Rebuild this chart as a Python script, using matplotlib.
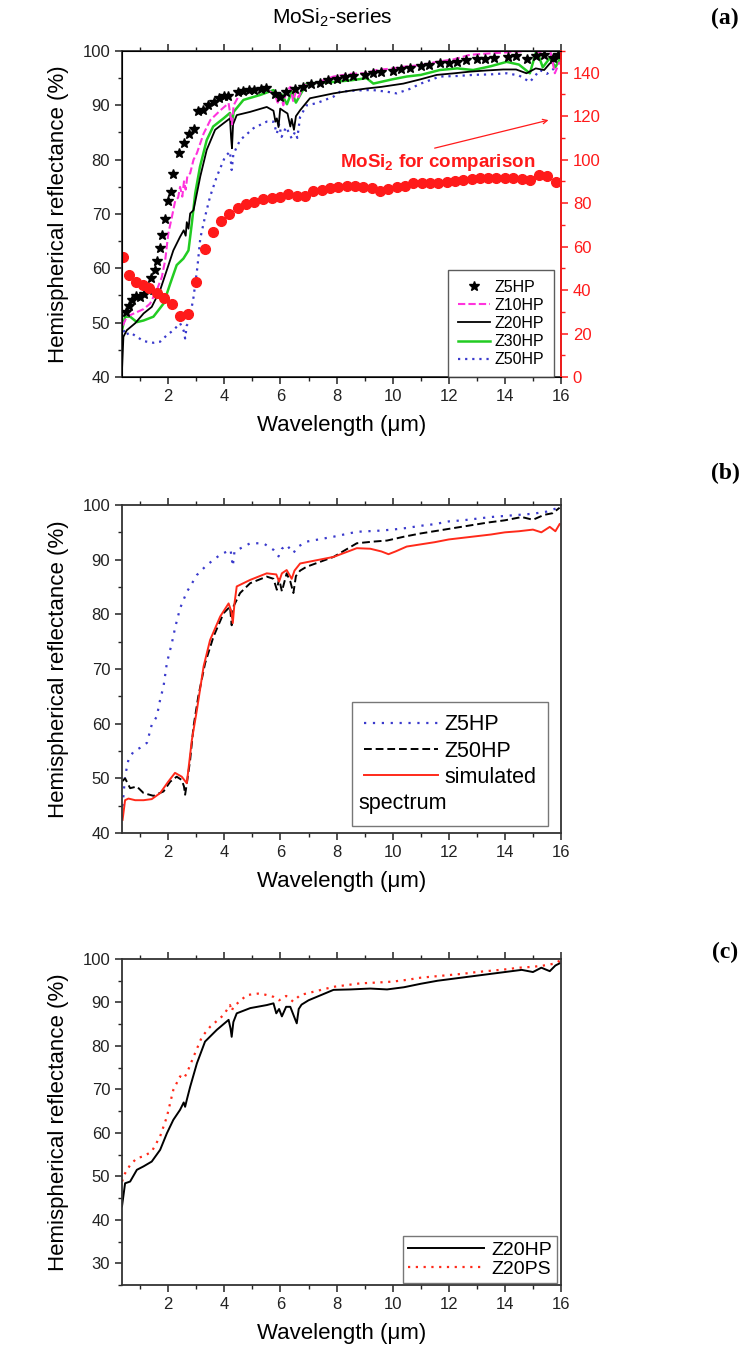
import numpy as np
import matplotlib
matplotlib.use('Agg')
import matplotlib.pyplot as plt
from matplotlib.lines import Line2D

plt.rcParams['font.family'] = ['Liberation Sans', 'DejaVu Sans']
plt.rcParams['mathtext.fontset'] = 'custom'
plt.rcParams['mathtext.rm'] = 'Liberation Sans'
plt.rcParams['mathtext.bf'] = 'Liberation Sans:bold'

# ---- panel (a): MoSi2 series ----
z5_x = [0.50, 0.61, 0.72, 0.86, 1.00, 1.12, 1.26, 1.40, 1.51, 1.61, 1.71, 1.79, 1.90, 2.00, 2.09, 2.18, 2.37, 2.56, 2.74, 2.92,
        3.07, 3.25, 3.43, 3.63, 3.82, 4.00, 4.13, 4.48, 4.68, 4.88, 5.04, 5.3, 5.5, 5.8, 6.0, 6.2, 6.5, 6.8, 7.1, 7.4, 7.7, 8.0,
        8.3, 8.6, 9.0, 9.3, 9.6, 10.0, 10.3, 10.6, 11.0, 11.3, 11.7, 12.0, 12.3, 12.6, 13.0, 13.3, 13.6, 14.1, 14.4, 14.8,
        15.1, 15.4, 15.7, 15.9]
z5_y = [51.9, 53.1, 54.1, 54.9, 54.8, 55.2, 56.1, 58.3, 59.7, 61.3, 63.7, 66.1, 69.1, 72.4, 74.1, 77.3, 81.2, 83.0, 84.7, 85.6,
        89.0, 89.1, 90.1, 90.7, 91.4, 91.8, 91.7, 92.5, 92.6, 92.8, 92.9, 93.0, 93.1, 92.0, 91.5, 92.5, 93.0, 93.4, 94.0, 94.2,
        94.6, 94.9, 95.2, 95.4, 95.6, 95.9, 96.2, 96.4, 96.7, 96.9, 97.3, 97.5, 97.7, 97.7, 98.0, 98.3, 98.5, 98.6, 98.8, 98.9,
        99.0, 98.6, 99.1, 99.2, 98.8, 99.3]

z10_x = [0.38, 0.52, 0.82, 1.12, 1.35, 1.59, 1.77, 1.89, 2.00, 2.13, 2.25, 2.35, 2.42, 2.50, 2.56, 2.62, 2.68, 2.78, 2.90, 3.02,
         3.26, 3.50, 3.86, 4.15, 4.22, 4.27, 4.33, 4.56, 5.04, 5.51, 5.80, 5.90, 6.00, 6.10, 6.20, 6.35, 6.45, 6.55, 6.65, 6.82,
         7.20, 7.89, 8.50, 9.00, 9.43, 10.0, 10.38, 11.0, 11.57, 12.2, 12.75, 13.3, 13.94, 14.54, 15.0, 15.3, 15.6, 15.78, 15.95]
z10_y = [49.5, 51.1, 51.8, 52.5, 53.5, 56.0, 58.4, 61.5, 66.4, 69.5, 72.5, 73.0, 75.0, 73.2, 76.0, 74.5, 77.0, 77.5, 80.0, 81.2,
         84.8, 87.3, 89.1, 90.4, 88.0, 86.5, 90.0, 92.2, 92.5, 92.9, 92.0, 90.5, 91.9, 90.0, 92.5, 93.4, 90.8, 92.5, 91.5, 93.7,
         94.0, 95.3, 95.8, 95.9, 96.5, 96.8, 97.1, 97.4, 98.0, 98.5, 99.3, 99.5, 99.7, 99.9, 100.3, 99.5, 100.5, 95.9, 98.0]

z20_x = [0.35, 0.40, 0.52, 0.82, 1.12, 1.41, 1.71, 1.95, 2.18, 2.42, 2.55, 2.62, 2.66, 2.72, 2.78, 2.90, 3.14, 3.37, 3.67, 3.97,
         4.20, 4.24, 4.27, 4.31, 4.44, 4.92, 5.51, 5.75, 5.82, 5.87, 5.93, 5.99, 6.10, 6.25, 6.35, 6.40, 6.48, 6.55, 6.70, 7.05,
         7.89, 8.50, 9.07, 9.60, 10.38, 11.0, 11.57, 12.2, 12.75, 13.3, 13.94, 14.40, 14.77, 15.10, 15.40, 15.60, 15.80, 15.96]
z20_y = [41.3, 47.4, 48.6, 49.9, 51.7, 52.9, 56.0, 59.7, 63.3, 65.8, 67.0, 66.0, 68.5, 67.3, 70.1, 70.7, 76.9, 81.8, 85.5, 86.7,
         87.6, 84.0, 82.1, 86.5, 88.2, 88.8, 89.7, 89.0, 87.0, 87.6, 86.0, 89.4, 89.0, 88.5, 86.1, 87.5, 85.5, 88.0, 89.1, 91.3,
         92.2, 92.7, 93.1, 93.4, 94.0, 94.8, 95.6, 95.9, 96.2, 96.4, 96.6, 96.6, 95.9, 96.8, 96.5, 97.7, 98.2, 99.0]

z30_x = [0.35, 0.46, 0.64, 0.88, 1.12, 1.47, 1.83, 2.07, 2.30, 2.54, 2.72, 2.84, 2.96, 3.13, 3.37, 3.60, 3.97, 4.20, 4.27, 4.33,
         4.68, 5.27, 5.75, 5.90, 6.05, 6.23, 6.40, 6.55, 6.93, 7.89, 8.5, 9.07, 9.31, 10.0, 10.5, 11.0, 11.68, 12.3, 12.87, 13.5,
         14.06, 14.50, 14.89, 15.13, 15.35, 15.60, 15.80, 15.95]
z30_y = [48.6, 51.1, 51.1, 50.1, 50.4, 51.1, 53.5, 57.2, 60.6, 61.8, 63.3, 68.3, 73.8, 78.7, 83.6, 86.1, 87.6, 88.6, 86.5, 88.8,
         91.0, 91.9, 92.8, 91.0, 92.0, 90.2, 92.5, 90.5, 94.0, 94.3, 94.6, 95.0, 94.0, 94.8, 95.3, 95.6, 96.5, 96.8, 96.5, 97.2,
         98.0, 97.5, 95.9, 100.2, 97.0, 98.7, 97.0, 98.5]

z50_x = [0.35, 0.46, 0.64, 0.88, 1.12, 1.47, 1.71, 1.95, 2.18, 2.42, 2.55, 2.60, 2.66, 2.74, 2.90, 3.04, 3.14, 3.31, 3.49, 3.73,
         4.02, 4.20, 4.26, 4.32, 4.56, 5.04, 5.51, 5.75, 5.87, 5.95, 6.04, 6.20, 6.40, 6.52, 6.60, 6.70, 6.93, 7.29, 7.89, 8.12,
         8.60, 9.07, 9.31, 9.80, 10.14, 10.6, 11.0, 11.68, 12.3, 12.87, 13.5, 14.06, 14.50, 14.89, 15.25, 15.50, 15.84]
z50_y = [49.9, 47.7, 48.2, 47.4, 46.6, 46.3, 46.5, 47.7, 48.6, 49.9, 48.5, 47.1, 49.5, 50.1, 54.7, 60.3, 65.5, 69.5, 73.2, 76.9,
         80.5, 81.5, 78.1, 81.0, 83.6, 85.8, 87.0, 87.0, 84.8, 86.5, 84.2, 86.0, 83.9, 85.1, 84.0, 87.9, 90.0, 90.4, 91.6, 92.5,
         92.7, 92.8, 92.8, 92.5, 92.2, 93.0, 94.0, 95.3, 95.4, 95.6, 95.7, 95.9, 95.5, 94.3, 96.5, 95.8, 97.1]

# MoSi2 reference (right axis)
mosi_x = [0.40, 0.61, 0.84, 1.09, 1.33, 1.60, 1.86, 2.13, 2.40, 2.71, 3.00, 3.31, 3.60, 3.89, 4.18, 4.48, 4.77, 5.07, 5.38, 5.68,
          5.99, 6.28, 6.58, 6.88, 7.17, 7.47, 7.77, 8.06, 8.36, 8.66, 8.95, 9.25, 9.55, 9.84, 10.14, 10.44, 10.73, 11.03, 11.33,
          11.62, 11.92, 12.22, 12.52, 12.81, 13.11, 13.41, 13.70, 14.00, 14.30, 14.60, 14.89, 15.21, 15.51, 15.81]
mosi_y = [55.4, 46.8, 43.6, 42.3, 41.1, 38.5, 36.5, 33.4, 27.9, 29.0, 43.6, 58.9, 66.9, 71.8, 75.2, 77.6, 79.6, 80.7, 81.9, 82.4,
          82.6, 84.1, 83.1, 83.4, 85.7, 86.1, 87.0, 87.3, 88.0, 88.0, 87.6, 87.1, 85.7, 86.4, 87.3, 88.0, 89.1, 89.4, 89.4, 89.4,
          89.6, 90.3, 90.7, 91.0, 91.4, 91.4, 91.4, 91.4, 91.4, 91.0, 90.7, 92.8, 92.5, 89.9]

# ---- panel (b) ----
b5_x = [0.37, 0.46, 0.58, 0.76, 1.0, 1.24, 1.41, 1.59, 1.71, 1.83, 1.95, 2.13, 2.25, 2.42, 2.66, 2.78, 3.02, 3.37, 3.85, 4.22,
        4.30, 4.36, 4.92, 5.39, 5.75, 5.93, 6.05, 6.22, 6.46, 6.60, 6.93, 7.89, 8.72, 9.5, 10.0, 10.5, 11.0, 11.5, 12.0, 12.5,
        13.0, 13.5, 14.0, 14.5, 15.0, 15.5, 15.9]
b5_y = [44.9, 50.4, 53.4, 54.9, 55.6, 56.5, 59.8, 61.3, 64.4, 66.8, 71.1, 74.8, 77.7, 81.1, 84.1, 85.1, 87.2, 89.0, 90.9, 91.8,
        88.8, 91.5, 93.0, 93.0, 91.8, 90.6, 92.0, 92.7, 91.2, 92.3, 93.3, 94.2, 95.1, 95.3, 95.5, 95.8, 96.2, 96.5, 97.0, 97.2,
        97.5, 97.8, 98.0, 98.2, 98.4, 98.8, 99.5]

b50_x = [0.37, 0.46, 0.64, 0.88, 1.12, 1.47, 1.83, 2.07, 2.30, 2.48, 2.56, 2.60, 2.66, 2.78, 2.90, 3.07, 3.31, 3.61, 3.97, 4.20,
         4.26, 4.32, 4.56, 4.92, 5.51, 5.75, 5.87, 5.95, 6.05, 6.22, 6.35, 6.46, 6.55, 6.70, 6.93, 7.89, 8.72, 9.3, 9.8, 10.4,
         11.0, 11.6, 12.2, 12.8, 13.4, 14.0, 14.6, 15.0, 15.4, 15.7, 15.95]
b50_y = [49.5, 50.0, 48.2, 48.5, 47.3, 46.8, 47.6, 49.4, 50.3, 49.7, 48.5, 47.0, 49.0, 53.4, 59.5, 65.0, 71.0, 75.9, 80.2, 81.4,
         78.0, 81.4, 83.9, 85.7, 86.9, 86.5, 84.5, 86.5, 84.2, 87.5, 86.0, 83.9, 87.0, 88.0, 88.7, 90.5, 93.0, 93.3, 93.5, 94.2,
         94.8, 95.3, 95.8, 96.3, 96.8, 97.2, 97.8, 97.3, 98.2, 98.5, 99.5]

sim_x = [0.37, 0.46, 0.58, 0.82, 1.12, 1.41, 1.71, 2.00, 2.24, 2.48, 2.66, 2.84, 3.02, 3.26, 3.49, 3.85, 4.15, 4.25, 4.30, 4.36,
         4.44, 4.92, 5.51, 5.85, 5.95, 6.05, 6.22, 6.40, 6.50, 6.70, 7.29, 7.89, 8.72, 9.2, 9.6, 9.85, 10.1, 10.5, 11.0, 11.5,
         12.0, 12.5, 13.0, 13.5, 14.0, 14.5, 15.0, 15.3, 15.6, 15.8, 15.95]
sim_y = [42.4, 46.0, 46.3, 46.0, 46.0, 46.2, 47.3, 49.4, 51.0, 50.3, 49.1, 57.0, 62.5, 70.5, 75.3, 79.6, 82.0, 80.5, 78.4, 82.0,
         85.1, 86.3, 87.5, 87.3, 86.0, 87.5, 88.1, 86.5, 88.0, 89.3, 89.9, 90.5, 92.1, 92.0, 91.5, 91.0, 91.5, 92.4, 92.8, 93.2,
         93.7, 94.0, 94.3, 94.6, 95.0, 95.2, 95.5, 95.0, 96.0, 95.2, 96.5]

# ---- panel (c) ----
c20_x = [0.35, 0.46, 0.64, 0.88, 1.12, 1.41, 1.71, 1.95, 2.18, 2.42, 2.55, 2.60, 2.66, 2.78, 3.02, 3.31, 3.73, 4.15, 4.22, 4.26,
         4.32, 4.44, 4.92, 5.51, 5.75, 5.85, 5.95, 6.05, 6.20, 6.35, 6.50, 6.58, 6.65, 6.75, 7.0, 7.89, 8.5, 9.2, 9.8, 10.4,
         11.0, 11.6, 12.2, 12.8, 13.4, 14.0, 14.6, 15.0, 15.3, 15.6, 15.8, 15.95]
c20_y = [43.1, 48.4, 48.8, 51.5, 52.3, 53.4, 56.1, 59.9, 63.0, 65.3, 67.0, 66.0, 67.6, 70.6, 76.0, 81.0, 83.7, 86.0, 84.0, 82.1,
         85.5, 87.5, 88.7, 89.4, 89.8, 87.5, 88.5, 86.8, 89.0, 89.0, 86.5, 85.2, 88.5, 89.5, 90.5, 92.9, 93.0, 93.2, 93.0, 93.5,
         94.3, 95.0, 95.5, 96.0, 96.5, 97.0, 97.5, 97.0, 98.0, 97.2, 98.5, 99.0]

cps_x = [0.35, 0.46, 0.64, 0.88, 1.12, 1.41, 1.71, 1.95, 2.18, 2.42, 2.55, 2.66, 2.90, 3.20, 3.49, 3.97, 4.20, 4.26, 4.32, 4.80,
         5.27, 5.75, 5.95, 6.20, 6.45, 6.70, 7.2, 7.89, 8.84, 9.5, 10.0, 10.5, 11.0, 11.5, 12.0, 12.5, 13.0, 13.5, 14.0, 14.5,
         15.0, 15.5, 15.8, 15.95]
cps_y = [48.8, 50.7, 52.6, 54.2, 54.6, 55.7, 59.2, 63.7, 69.9, 73.0, 72.5, 73.7, 77.5, 82.1, 84.4, 87.1, 89.4, 88.0, 89.0, 91.7,
         92.1, 91.3, 90.5, 91.5, 90.2, 91.7, 92.5, 93.6, 94.4, 94.6, 94.8, 95.2, 95.7, 96.0, 96.3, 96.6, 97.0, 97.3, 97.6, 98.0,
         98.2, 98.6, 99.0, 99.6]

RED = '#ff1a1a'
W, H = 748, 1349
fig = plt.figure(figsize=(W / 100, H / 100), dpi=100)


def frame(ax, ylo, yhi, right_ticks=False):
    ax.set_xlim(0.35, 16)
    ax.set_ylim(ylo, yhi)
    ax.set_xticks(np.arange(2, 17, 2))
    ax.set_xticks(np.arange(1, 16, 1), minor=True)
    ax.set_yticks(np.arange(int(np.ceil(ylo / 10) * 10), yhi + 1, 10))
    ax.set_yticks(np.arange(ylo, yhi + 1, 5), minor=True)
    ax.tick_params(which='both', direction='out', top=True, right=right_ticks, labelsize=12, colors='#222222')
    ax.tick_params(which='major', length=5, width=1.1)
    ax.tick_params(which='minor', length=3, width=1.0)
    for s in ax.spines.values():
        s.set_linewidth(1.3)
        s.set_color('#333333')
    ax.set_xlabel('Wavelength (μm)', fontsize=16, labelpad=8)
    ax.set_ylabel('Hemispherical reflectance (%)', fontsize=16, labelpad=10)


def box(x0, y0, x1, y1):
    return [x0 / W, 1 - y1 / H, (x1 - x0) / W, (y1 - y0) / H]


# (a)
axa = fig.add_axes(box(122, 51, 561, 377))
frame(axa, 40, 100)
axa.plot(z50_x, z50_y, color='#3a3acc', ls=(0, (1, 2.2)), lw=1.6, label='Z50HP', zorder=2)
axa.plot(z30_x, z30_y, color='#22cc22', lw=1.8, label='Z30HP', zorder=3)
axa.plot(z20_x, z20_y, color='black', lw=1.3, label='Z20HP', zorder=4)
axa.plot(z10_x, z10_y, color='#ff33dd', ls=(0, (3.5, 1.5)), lw=1.5, label='Z10HP', zorder=5)
axa.plot(z5_x, z5_y, ls='none', marker='*', ms=7, color='black', label='Z5HP', zorder=6)

axr = axa.twinx()
axr.set_ylim(0, 150)
axr.set_yticks(np.arange(0, 141, 20))
axr.set_yticks(np.arange(0, 151, 10), minor=True)
axr.tick_params(which='both', direction='out', colors=RED, labelsize=12)
axr.tick_params(which='major', length=5, width=1.1)
axr.tick_params(which='minor', length=3, width=1.0)
axr.spines['right'].set_color(RED)
axr.spines['right'].set_linewidth(1.3)
axr.plot(mosi_x, mosi_y, ls='none', marker='o', ms=7, color=RED, zorder=1)
axr.text(11.6, 98.5, r'MoSi$_\mathbf{2}$ for comparison', color=RED, fontsize=13.5, fontweight='bold',
         ha='center', va='center')
axr.annotate('', xy=(15.65, 118.5), xytext=(11.4, 105),
             arrowprops=dict(arrowstyle='->', color=RED, lw=0.9, mutation_scale=8))

h, l = axa.get_legend_handles_labels()
order = ['Z5HP', 'Z10HP', 'Z20HP', 'Z30HP', 'Z50HP']
hh = [h[l.index(o)] for o in order]
lega = axr.legend(hh, order, loc='lower right', bbox_to_anchor=(0.984, 0.0), fontsize=11.5, frameon=True,
                  fancybox=False, edgecolor='#333333', borderaxespad=0, handlelength=2.0, labelspacing=0.2,
                  borderpad=0.6, handletextpad=0.3)
lega.get_frame().set_linewidth(1.0)

# (b)
axb = fig.add_axes(box(122, 505, 561, 833))
frame(axb, 40, 100)
axb.plot(b5_x, b5_y, color='#3a3acc', ls=(0, (1, 3)), lw=1.6, label='Z5HP')
axb.plot(b50_x, b50_y, color='black', ls=(0, (4, 2)), lw=1.4, label='Z50HP')
axb.plot(sim_x, sim_y, color='#ff2a1a', lw=1.4, label='simulated')
hb, lb = axb.get_legend_handles_labels()
hb.append(Line2D([], [], color='none'))
lb.append(' ')
legb = axb.legend(hb, lb, loc='lower right', bbox_to_anchor=(0.970, 0.021), fontsize=15.5, frameon=True,
                  fancybox=False, edgecolor='#555555', borderaxespad=0, handlelength=3.4, labelspacing=0.25,
                  borderpad=0.55, handletextpad=0.3)
legb.get_frame().set_linewidth(1.0)

# (c)
axc = fig.add_axes(box(122, 959, 561, 1285))
frame(axc, 25, 100)
axc.set_yticks(np.arange(30, 101, 10))
axc.plot(c20_x, c20_y, color='black', lw=1.4, label='Z20HP')
axc.plot(cps_x, cps_y, color='#ff2a1a', ls=(0, (1, 2.5)), lw=1.6, label='Z20PS')
legc = axc.legend(loc='lower right', bbox_to_anchor=(0.991, 0.006), fontsize=14, frameon=True,
                  fancybox=False, edgecolor='#555555', borderaxespad=0, handlelength=3.9, labelspacing=0.1,
                  borderpad=0.25, handletextpad=0.4)
legc.get_frame().set_linewidth(1.0)

fig.text(332 / W, 1 - 18 / H, r'MoSi$_2$-series', fontsize=15, ha='center', va='center')
for lab, yy in [('(a)', 18), ('(b)', 473), ('(c)', 952)]:
    fig.text(725 / W, 1 - yy / H, lab, fontsize=17, fontweight='bold', family='Liberation Serif',
             ha='center', va='center')

# second line of the "simulated spectrum" legend entry
fig.canvas.draw()
fr = legb.get_frame().get_window_extent()
t4 = legb.get_texts()[3].get_window_extent()
fig.text((fr.x0 + 6) / W, (t4.y0 + t4.y1) / 2 / H, 'spectrum', fontsize=15.5, va='center', ha='left')

fig.savefig('out.png', dpi=100)
